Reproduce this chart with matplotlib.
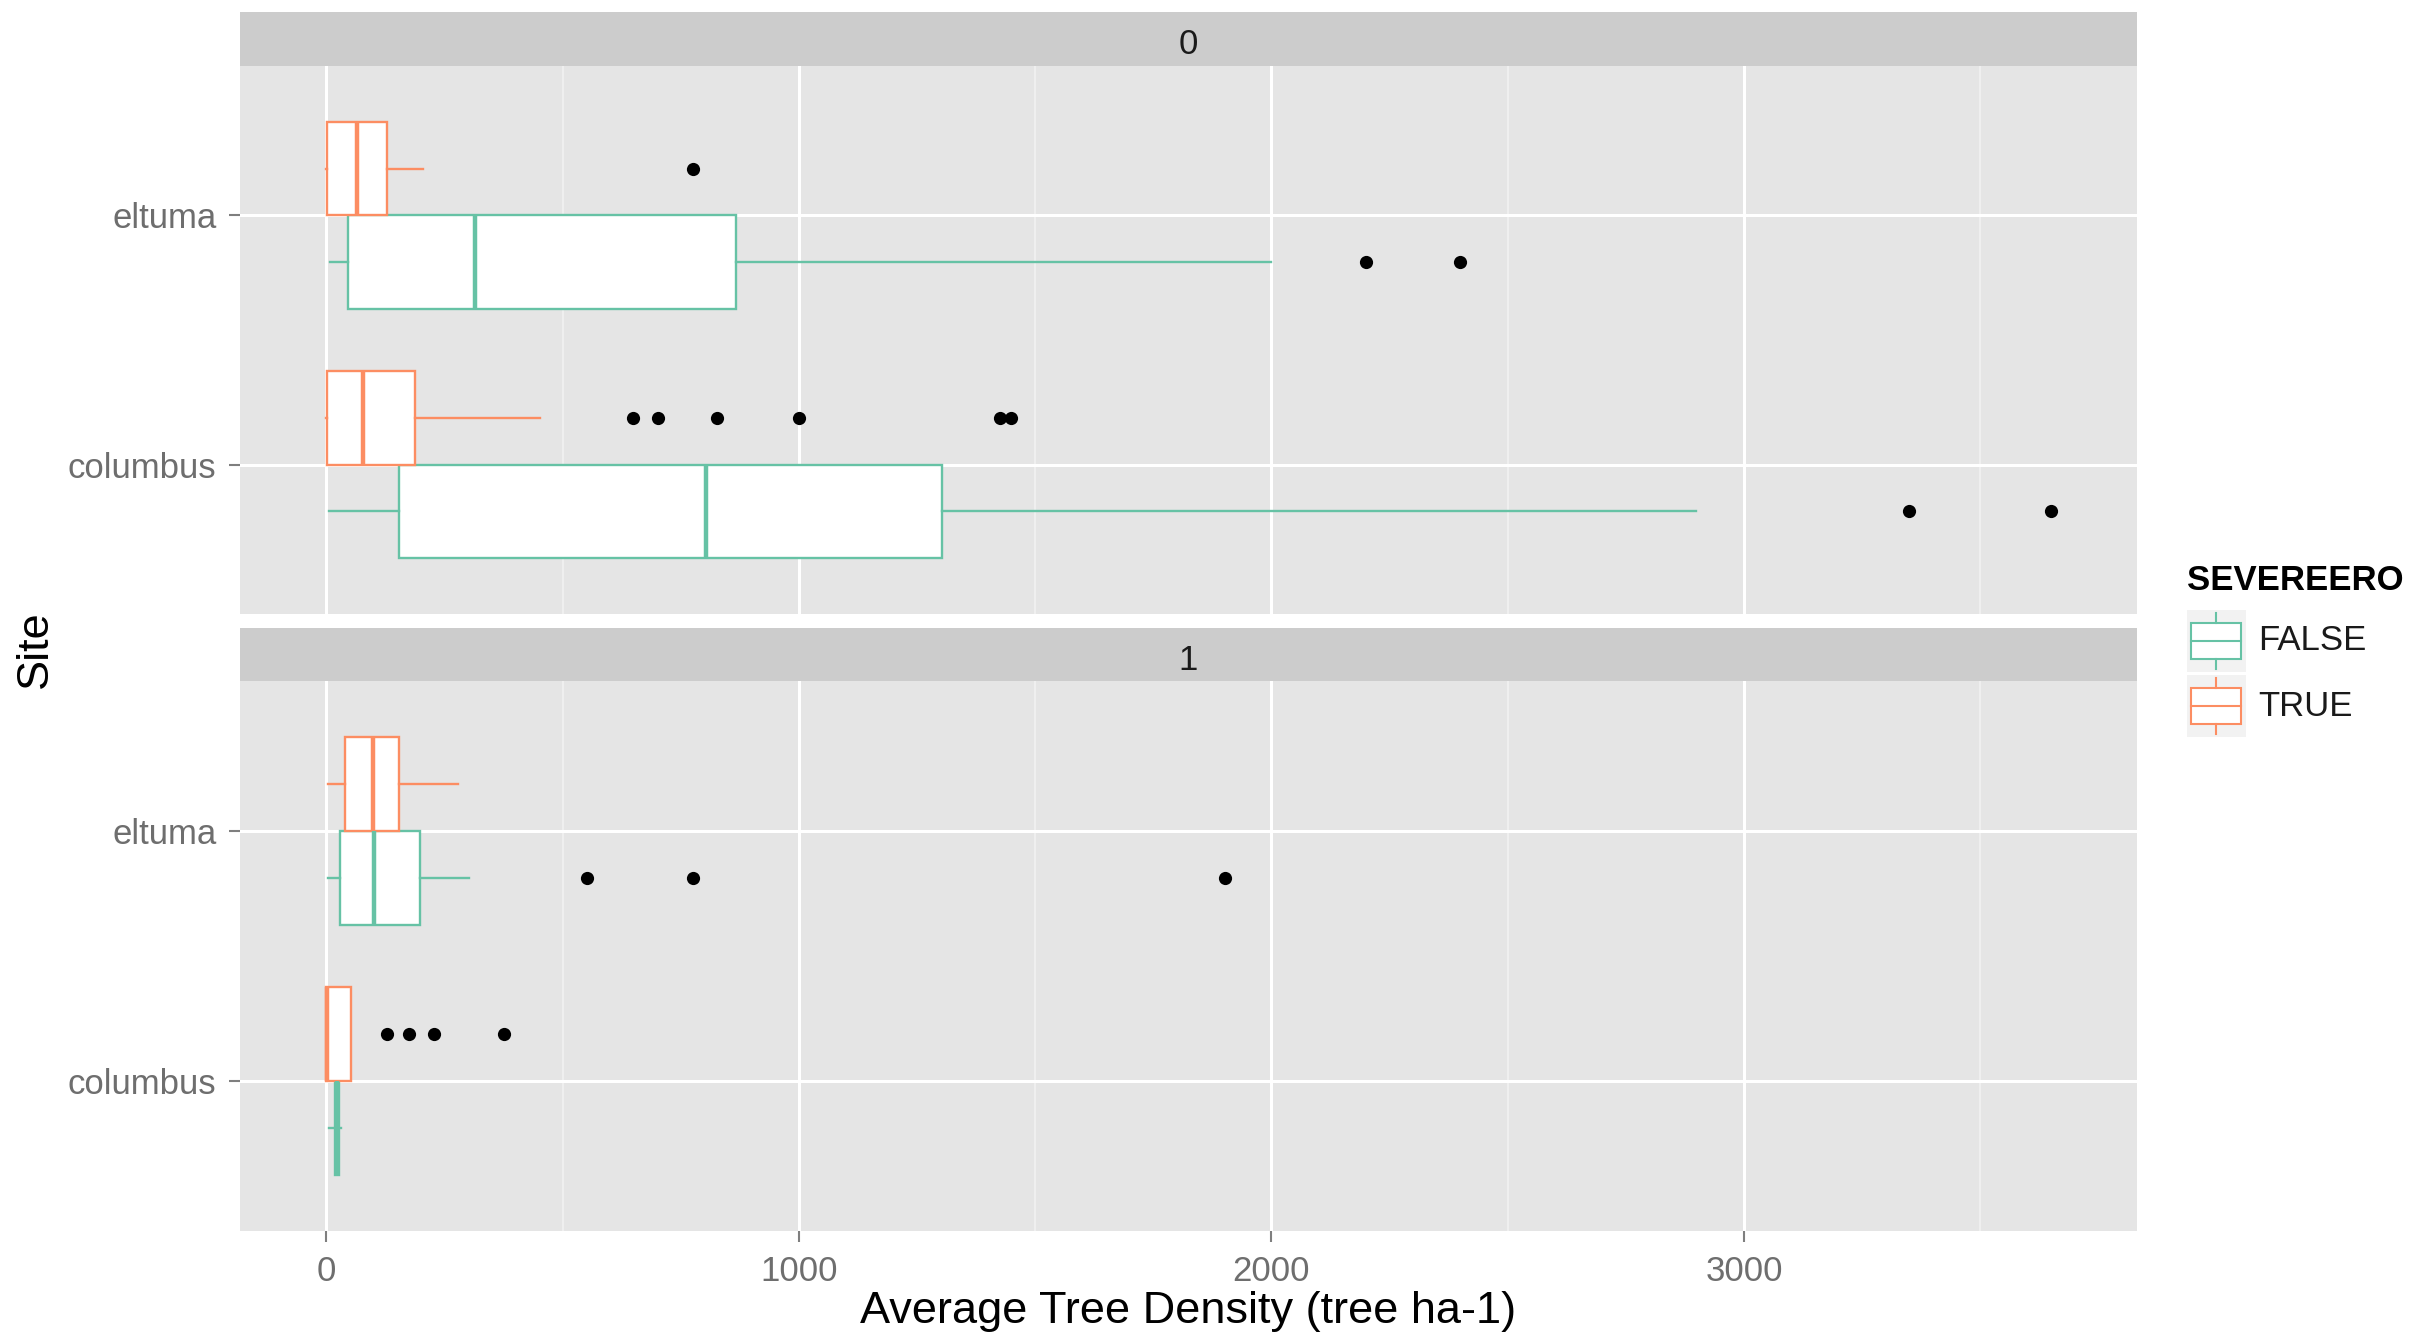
#importing library functions
import numpy as np
import matplotlib.pyplot as plt
from matplotlib.patches import Rectangle

plt.rcParams['font.family'] = ['Liberation Sans', 'DejaVu Sans']

# categories
sites = ['columbus', 'eltuma']
groups = ['FALSE', 'TRUE']
facets = ['0', '1']
group_colors = ['#66C2A5', '#FC8D62']

# box stats: [whisker low, q1, median, q3, whisker high]
# one row per site (columbus, eltuma)
f0_false = [[5, 153, 803, 1302, 2898], [7, 47, 315, 866, 2000]]
f0_true = [[0, 2, 78, 188, 452], [0, 2, 66, 129, 205]]
f1_false = [[5, 18, 22, 28, 32], [4, 29, 101, 199, 302]]
f1_true = [[0, 0, 1, 52, 52], [4, 40, 100, 153, 278]]

# outliers
f0_false_out = [[3350, 3649], [2200, 2400]]
f0_true_out = [[650, 701, 826, 1001, 1426, 1449], [777]]
f1_false_out = [[], [551, 777, 1902]]
f1_true_out = [[128, 175, 228, 377], []]

panel_data = [
    [(f0_false, f0_false_out), (f0_true, f0_true_out)],
    [(f1_false, f1_false_out), (f1_true, f1_true_out)],
]

W, H = 2432, 1336
fig = plt.figure(figsize=(W / 100, H / 100), dpi=100)

# limits like ggplot: 5% expansion of data range
all_vals = []
for facet in panel_data:
    for stats, outs in facet:
        for row in stats:
            all_vals += row
        for o in outs:
            all_vals += o
lo, hi = min(all_vals), max(all_vals)
pad = 0.05 * (hi - lo)
xlim = (lo - pad, hi + pad)

left_px, right_px = 240, 2137
panel_px = [(66, 614), (681, 1231)]
strip_px = [(12, 66), (628, 681)]

dodge = 0.1875
for i, facet in enumerate(panel_data):
    t, b = panel_px[i]
    ax = fig.add_axes([left_px / W, 1 - b / H, (right_px - left_px) / W, (b - t) / H])
    ax.set_facecolor('#E5E5E5')
    for sp in ax.spines.values():
        sp.set_visible(False)
    for g, (stats, outs) in enumerate(facet):
        c = group_colors[g]
        bstats = []
        for s in range(len(sites)):
            wl, q1, med, q3, wh = stats[s]
            bstats.append(dict(whislo=wl, q1=q1, med=med, q3=q3, whishi=wh, fliers=outs[s]))
        pos = [s + 1 + (dodge if g == 1 else -dodge) for s in range(len(sites))]
        ax.bxp(bstats, positions=pos, widths=0.375, orientation='horizontal',
               showcaps=False, patch_artist=True, manage_ticks=False,
               boxprops=dict(facecolor='white', edgecolor=c, linewidth=1.7),
               medianprops=dict(color=c, linewidth=3.2, solid_capstyle='butt'),
               whiskerprops=dict(color=c, linewidth=1.7),
               flierprops=dict(marker='o', markerfacecolor='black', markeredgewidth=0,
                               markersize=9.5))
    ax.set_xlim(xlim)
    ax.set_ylim(0.4, 2.6)
    ax.set_xticks([0, 1000, 2000, 3000])
    ax.set_xticks([500, 1500, 2500, 3500], minor=True)
    ax.set_yticks([1, 2])
    ax.set_yticklabels(sites)
    ax.set_axisbelow(True)
    ax.grid(which='major', color='white', linewidth=2.2)
    ax.grid(which='minor', axis='x', color='#F2F2F2', linewidth=1.2)
    ax.tick_params(axis='y', length=8, width=1.5, color='#7F7F7F', labelcolor='#6E6E6E',
                   labelsize=25, pad=9)
    ax.tick_params(axis='x', which='minor', length=0)
    if i == 0:
        ax.tick_params(axis='x', which='major', length=0, labelbottom=False)
    else:
        ax.tick_params(axis='x', which='major', length=8, width=1.5, color='#7F7F7F',
                       labelcolor='#6E6E6E', labelsize=25, pad=9)

    # facet strip
    st, sb = strip_px[i]
    sax = fig.add_axes([left_px / W, 1 - sb / H, (right_px - left_px) / W, (sb - st) / H])
    sax.set_facecolor('#CCCCCC')
    sax.set_xticks([])
    sax.set_yticks([])
    for sp in sax.spines.values():
        sp.set_visible(False)
    sax.text(0.5, 0.39, facets[i], ha='center', va='center', fontsize=25, color='#1A1A1A',
             transform=sax.transAxes)

# axis titles
fig.text((left_px + right_px) / 2 / W, 1 - 1312 / H, 'Average Tree Density (tree ha-1)',
         ha='center', va='center', fontsize=32.5, color='black')
fig.text(35 / W, 1 - 649 / H, 'Site', ha='center', va='center', rotation=90,
         fontsize=32.5, color='black')

# legend drawn in pixel coordinates
lax = fig.add_axes([0, 0, 1, 1])
lax.set_xlim(0, W)
lax.set_ylim(H, 0)
lax.axis('off')
lax.text(2187, 581, 'SEVEREERO', fontsize=25, fontweight='bold', ha='left', va='center',
         color='black')
for g, name in enumerate(groups):
    cy = 641 + 65 * g
    c = group_colors[g]
    lax.add_patch(Rectangle((2187, cy - 31), 59, 62, facecolor='#F2F2F2', edgecolor='none'))
    lax.add_patch(Rectangle((2191, cy - 18), 50, 36, facecolor='white', edgecolor=c, linewidth=1.5))
    lax.plot([2191, 2241], [cy, cy], color=c, linewidth=1.5)
    lax.plot([2216, 2216], [cy - 28, cy - 18], color=c, linewidth=1.5)
    lax.plot([2216, 2216], [cy + 18, cy + 28], color=c, linewidth=1.5)
    lax.text(2258, cy, name, fontsize=25, ha='left', va='center', color='#1A1A1A')

plt.savefig('out.png', dpi=100)
